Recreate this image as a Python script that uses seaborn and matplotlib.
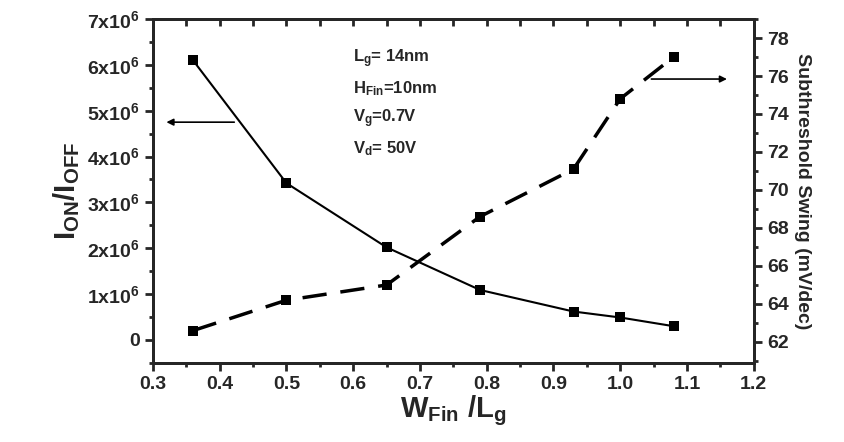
import numpy as np
import pandas as pd
import matplotlib
matplotlib.use("Agg")
import matplotlib.pyplot as plt
import seaborn as sns
from matplotlib.ticker import MultipleLocator, FuncFormatter, NullFormatter

# values
w_ratio = [0.36, 0.50, 0.65, 0.79, 0.93, 1.00, 1.08]
on_off = [6.10e6, 3.42e6, 2.02e6, 1.09e6, 0.62e6, 0.49e6, 0.30e6]
swing = [62.6, 64.2, 65.0, 68.6, 71.1, 74.8, 77.0]
info_lines = [r"L$_{\rm g}$= 14nm", r"H$_{\rm Fin}$=10nm",
              r"V$_{\rm g}$=0.7V", r"V$_{\rm d}$= 50V"]

sns.set_style("ticks")
plt.rcParams["font.family"] = ["Liberation Sans", "DejaVu Sans"]
plt.rcParams["font.weight"] = "bold"
plt.rcParams["axes.labelweight"] = "bold"
plt.rcParams["mathtext.fontset"] = "custom"
plt.rcParams["mathtext.rm"] = "Liberation Sans:weight=bold"
plt.rcParams["mathtext.it"] = "Liberation Sans:weight=bold"
plt.rcParams["mathtext.bf"] = "Liberation Sans:weight=bold"
plt.rcParams["mathtext.default"] = "bf"

df = pd.DataFrame({"w": w_ratio, "ratio": on_off, "ss": swing})

fig = plt.figure(figsize=(8.45, 4.42), dpi=100)
ax = fig.add_axes([0.181, 0.179, 0.711, 0.778])
ax2 = ax.twinx()
ax3 = ax.twiny()

sns.lineplot(data=df, x="w", y="ratio", ax=ax, color="black", lw=1.5,
             marker="s", markersize=7, markeredgewidth=0)
sns.lineplot(data=df, x="w", y="ss", ax=ax2, color="black", lw=2.5,
             marker="s", markersize=7, markeredgewidth=0)
ax2.lines[0].set_dashes([7, 4])

ax.set_xlim(0.3, 1.2)
ax3.set_xlim(0.3, 1.2)
ax.set_ylim(-0.5e6, 7e6)
ax2.set_ylim(60.9, 79.0)

ax.xaxis.set_major_locator(MultipleLocator(0.1))
ax.xaxis.set_minor_locator(MultipleLocator(0.05))
ax3.xaxis.set_major_locator(MultipleLocator(0.05))
ax3.xaxis.set_major_formatter(NullFormatter())
ax.yaxis.set_major_locator(MultipleLocator(1e6))
ax.yaxis.set_minor_locator(MultipleLocator(0.5e6))
ax2.yaxis.set_major_locator(MultipleLocator(2))
ax2.yaxis.set_minor_locator(MultipleLocator(1))

def sci(v, pos):
    n = int(round(v / 1e6))
    return "0" if n == 0 else r"%dx10$^{6}$" % n

ax.yaxis.set_major_formatter(FuncFormatter(sci))
ax.xaxis.set_major_formatter(FuncFormatter(lambda v, p: "%.1f" % v))

for a in (ax, ax2, ax3):
    for s in a.spines.values():
        s.set_linewidth(2)
        s.set_visible(True)
ax.tick_params(axis="both", which="major", labelsize=14, width=2, length=6,
               direction="out")
ax.tick_params(axis="both", which="minor", width=2, length=3, direction="out")
ax3.tick_params(axis="x", which="major", width=2, length=5, direction="in")
ax2.tick_params(axis="y", which="major", labelsize=14, width=2, length=6,
                direction="out")
ax2.tick_params(axis="y", which="minor", width=2, length=3, direction="out")

ax.set_xlabel(r"W$_{\rm Fin}$ /L$_{\rm g}$", fontsize=21, labelpad=0,
              fontweight="bold")
ax.set_ylabel(r"I$_{\rm ON}$/I$_{\rm OFF}$", fontsize=21, labelpad=4,
              fontweight="bold")
ax2.set_ylabel("Subthreshold Swing (mV/dec)", fontsize=14, rotation=-90,
               labelpad=16, fontweight="bold")

for i, t in enumerate(info_lines):
    ax.text(0.333, 0.885 - i * 0.087, t, transform=ax.transAxes,
            fontsize=12, va="center", ha="left", fontweight="bold")

ax.annotate("", xy=(0.316, 4.75e6), xytext=(0.426, 4.75e6),
            arrowprops=dict(arrowstyle="-|>", color="black", lw=1.2))
ax2.annotate("", xy=(1.164, 75.84), xytext=(1.0425, 75.84),
             arrowprops=dict(arrowstyle="-|>", color="black", lw=1.2))

fig.savefig("out.png", dpi=100)
